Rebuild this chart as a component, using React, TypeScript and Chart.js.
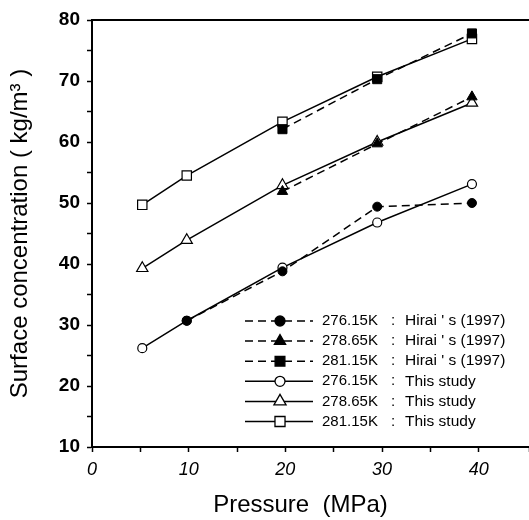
import React, { useEffect, useRef } from 'react';
import { Chart, registerables } from 'chart.js';

Chart.register(...registerables);

// ---- data ----
const pressureStudy = [5.2, 9.8, 19.7, 29.5, 39.3];
const study27615 = [26.2, 30.7, 39.4, 46.8, 53.1];
const study27865 = [39.3, 43.9, 52.9, 60.0, 66.4];
const study28115 = [49.7, 54.5, 63.3, 70.7, 76.9];

const pressureHirai27615 = [9.8, 19.7, 29.5, 39.3];
const hirai27615 = [30.7, 38.8, 49.4, 50.0];
const pressureHirai = [19.7, 29.5, 39.3];
const hirai27865 = [51.9, 59.7, 67.4];
const hirai28115 = [62.1, 70.3, 77.8];

const temperatures = ['276.15K', '278.65K', '281.15K'];
const hiraiLabel = "Hirai ' s (1997)";
const studyLabel = 'This study';

const FONT = "'Liberation Sans', Arial, Helvetica, sans-serif";

const toPoints = (xs: number[], ys: number[]) => xs.map((x, i) => ({ x, y: ys[i] }));

function drawMarker(ctx: CanvasRenderingContext2D, style: string, x: number, y: number, r: number, filled: boolean) {
  ctx.save();
  ctx.setLineDash([]);
  ctx.lineWidth = 1.3;
  ctx.strokeStyle = '#000';
  ctx.fillStyle = filled ? '#000' : '#fff';
  ctx.beginPath();
  if (style === 'circle') {
    ctx.arc(x, y, r, 0, Math.PI * 2);
  } else if (style === 'rect') {
    const s = Math.SQRT1_2 * r;
    ctx.rect(x - s, y - s, 2 * s, 2 * s);
  } else if (style === 'triangle') {
    let rad = 0;
    ctx.moveTo(x + Math.sin(rad) * r, y - Math.cos(rad) * r);
    rad += (2 * Math.PI) / 3;
    ctx.lineTo(x + Math.sin(rad) * r, y - Math.cos(rad) * r);
    rad += (2 * Math.PI) / 3;
    ctx.lineTo(x + Math.sin(rad) * r, y - Math.cos(rad) * r);
    ctx.closePath();
  }
  ctx.fill();
  ctx.stroke();
  ctx.restore();
}

const framePlugin = {
  id: 'frameAndLegend',
  afterDraw(chart: any) {
    const ctx = chart.ctx as CanvasRenderingContext2D;
    const { left, right, top } = chart.chartArea;
    // top frame line
    ctx.save();
    ctx.strokeStyle = '#000';
    ctx.lineWidth = 2;
    ctx.beginPath();
    ctx.moveTo(left, top);
    ctx.lineTo(right, top);
    ctx.stroke();
    ctx.restore();

    // legend inside plot (bottom right)
    const x0 = 245;
    const x1 = 313;
    const xm = 280;
    const y0 = 321;
    const dy = 20.1;
    chart.data.datasets.forEach((ds: any, i: number) => {
      const y = y0 + i * dy;
      ctx.save();
      ctx.strokeStyle = '#000';
      ctx.lineWidth = 1.5;
      ctx.setLineDash(ds.borderDash || []);
      ctx.beginPath();
      ctx.moveTo(x0, y);
      ctx.lineTo(x1, y);
      ctx.stroke();
      ctx.restore();
      drawMarker(ctx, ds.pointStyle, xm, y, ds.pointRadius + 0.5, ds.pointBackgroundColor === '#000');
      ctx.save();
      ctx.fillStyle = '#000';
      ctx.textBaseline = 'middle';
      ctx.textAlign = 'left';
      ctx.font = `15px ${FONT}`;
      ctx.fillText(ds.tempLabel, 322, y);
      ctx.fillText(':', 391, y);
      ctx.font = `15.5px ${FONT}`;
      ctx.fillText(ds.descLabel, 405, y);
      ctx.restore();
    });
  },
};

export default function App() {
  const canvasRef = useRef<HTMLCanvasElement | null>(null);

  useEffect(() => {
    if (!canvasRef.current) return;
    const hiraiSets = [
      { d: toPoints(pressureHirai27615, hirai27615), t: temperatures[0], s: 'circle', r: 4.5 },
      { d: toPoints(pressureHirai, hirai27865), t: temperatures[1], s: 'triangle', r: 6 },
      { d: toPoints(pressureHirai, hirai28115), t: temperatures[2], s: 'rect', r: 6.4 },
    ].map((o) => ({
      label: `${o.t} : ${hiraiLabel}`,
      tempLabel: o.t,
      descLabel: hiraiLabel,
      data: o.d,
      borderColor: '#000',
      borderWidth: 1.5,
      borderDash: [8, 5],
      pointStyle: o.s,
      pointRadius: o.r,
      pointBackgroundColor: '#000',
      pointBorderColor: '#000',
      pointBorderWidth: 1,
      showLine: true,
      fill: false,
      tension: 0,
    }));
    const studySets = [
      { d: toPoints(pressureStudy, study27615), t: temperatures[0], s: 'circle', r: 4.5 },
      { d: toPoints(pressureStudy, study27865), t: temperatures[1], s: 'triangle', r: 6.5 },
      { d: toPoints(pressureStudy, study28115), t: temperatures[2], s: 'rect', r: 6.6 },
    ].map((o) => ({
      label: `${o.t} : ${studyLabel}`,
      tempLabel: o.t,
      descLabel: studyLabel,
      data: o.d,
      borderColor: '#000',
      borderWidth: 1.5,
      borderDash: [],
      pointStyle: o.s,
      pointRadius: o.r,
      pointBackgroundColor: '#fff',
      pointBorderColor: '#000',
      pointBorderWidth: 1.2,
      showLine: true,
      fill: false,
      tension: 0,
    }));

    const chart = new Chart(canvasRef.current, {
      type: 'scatter',
      data: { datasets: [...hiraiSets, ...studySets] as any },
      options: {
        animation: false,
        responsive: false,
        layout: { autoPadding: false, padding: { top: 20, right: 0, left: 0, bottom: 0 } },
        plugins: { legend: { display: false }, tooltip: { enabled: false } },
        scales: {
          x: {
            type: 'linear',
            min: 0,
            max: 45.2,
            afterFit: (s: any) => {
              s.height = 73;
              s.paddingRight = 0;
              s.paddingLeft = 0;
            },
            border: { display: true, color: '#000', width: 2 },
            grid: { display: true, drawOnChartArea: false, drawTicks: true, tickLength: 5, tickColor: '#000', tickWidth: 1.5 },
            ticks: {
              stepSize: 5,
              autoSkip: false,
              maxRotation: 0,
              padding: 7,
              color: '#000',
              font: { family: FONT, size: 18, style: 'italic' },
              callback: (v: any) => (Number(v) % 10 === 0 ? String(v) : ''),
            },
            title: {
              display: true,
              text: 'Pressure  (MPa)   ',
              color: '#000',
              font: { family: FONT, size: 24 },
              padding: { top: 0, bottom: 0 },
            },
          },
          y: {
            type: 'linear',
            min: 10,
            max: 80,
            afterFit: (s: any) => {
              s.width = 92;
              s.paddingTop = 0;
              s.paddingBottom = 0;
            },
            border: { display: true, color: '#000', width: 2 },
            grid: { display: true, drawOnChartArea: false, drawTicks: true, tickLength: 5, tickColor: '#000', tickWidth: 1.5 },
            ticks: {
              stepSize: 5,
              autoSkip: false,
              padding: 7,
              color: '#000',
              font: { family: FONT, size: 19, weight: 'bold' },
              callback: (v: any) => (Number(v) % 10 === 0 ? String(v) : ''),
            },
            title: {
              display: true,
              text: 'Surface concentration ( kg/m³ )',
              color: '#000',
              font: { family: FONT, size: 24 },
              padding: { top: 6, bottom: 0 },
            },
          },
        },
      },
      plugins: [framePlugin],
    });
    return () => chart.destroy();
  }, []);

  return (
    <div style={{ position: 'absolute', left: 0, top: 0, width: 529, height: 520, background: '#fff' }}>
      <canvas ref={canvasRef} width={529} height={520} style={{ display: 'block' }} />
    </div>
  );
}
